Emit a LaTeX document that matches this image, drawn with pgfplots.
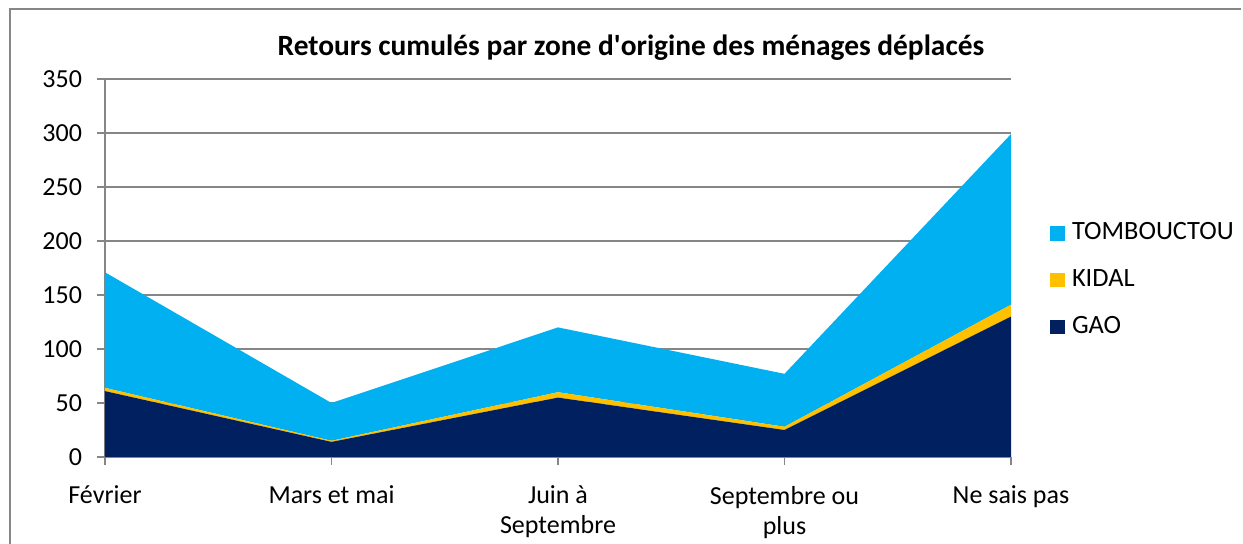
\documentclass[border=0pt]{standalone}
\usepackage{fontspec}
\setmainfont{Carlito}
\usepackage{pgfplots}
\pgfplotsset{compat=1.18}
\definecolor{tomb}{HTML}{00B0F0}
\definecolor{kidal}{HTML}{FFC000}
\definecolor{gao}{HTML}{002060}
\definecolor{axgray}{HTML}{868686}
\begin{document}
\fontsize{13pt}{15pt}\selectfont
\begin{tikzpicture}
\useasboundingbox (0,0) rectangle (621.5pt,272pt);
% chart frame (only left and top edges are in view)
\draw[axgray, line width=0.8pt] (5pt,0) -- (5pt,267.5pt) -- (620.5pt,267.5pt);
\node[font=\fontsize{14.7pt}{17pt}\selectfont\bfseries] at (315.5pt,248pt)
  {Retours cumulés par zone d\textquotesingle origine des ménages déplacés};
\begin{axis}[
    at={(52.5pt,43.5pt)}, anchor=south west,
    scale only axis, width=453pt, height=189pt,
    xmin=0, xmax=4, ymin=0, ymax=350,
    stack plots=y, area style, axis on top=false,
    xtick={0,1,2,3,4},
    xticklabels={Février, Mars et mai, {Juin à\\Septembre}, {Septembre ou\\plus}, Ne sais pas},
    xticklabel style={align=center, yshift=-6pt, font=\fontsize{13pt}{15pt}\selectfont},
    ytick={0,50,...,350},
    yticklabel style={xshift=-3pt, font=\fontsize{13pt}{15pt}\selectfont},
    /pgf/number format/assume math mode=true,
    tick align=outside, major tick length=4pt,
    tick style={axgray, line width=0.6pt},
    ymajorgrids, grid style={axgray, line width=0.6pt},
    axis x line*=bottom, axis y line*=left,
    axis line style={axgray, line width=0.6pt},
    separate axis lines,
    x axis line style={-}, y axis line style={-},
    reverse legend,
    legend cell align=left,
    legend style={at={(1.036,0.468)}, anchor=west, draw=none, fill=none,
      font=\fontsize{13.2pt}{15pt}\selectfont, row sep=9pt},
    legend image code/.code={\fill[#1] (0pt,-3.7pt) rectangle (7.4pt,3.7pt);
      \path (9pt,0pt);},
]
\addplot[fill=gao, draw=none] coordinates {(0,61) (1,14) (2,55) (3,25) (4,130)} \closedcycle;
\addlegendentry{GAO}
\addplot[fill=kidal, draw=none] coordinates {(0,3) (1,1) (2,5) (3,3) (4,11)} \closedcycle;
\addlegendentry{KIDAL}
\addplot[fill=tomb, draw=none] coordinates {(0,107) (1,35) (2,60) (3,49) (4,158)} \closedcycle;
\addlegendentry{TOMBOUCTOU}
\end{axis}
\end{tikzpicture}
\end{document}
